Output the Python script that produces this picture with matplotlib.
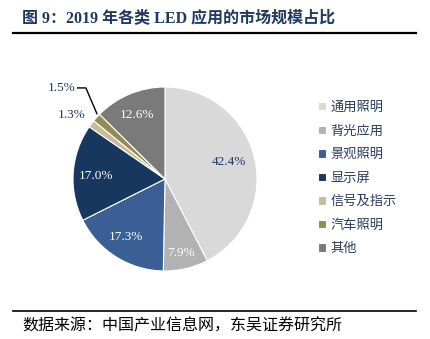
import matplotlib.pyplot as plt
from matplotlib.lines import Line2D

categories = ['通用照明', '背光应用', '景观照明', '显示屏', '信号及指示', '汽车照明', '其他']
shares = [42.4, 7.9, 17.3, 17.0, 1.3, 1.5, 12.6]
colors = ['#d9d9d9', '#b2b2b2', '#3a5f94', '#17375e', '#c4bd97', '#948a54', '#7a7a7a']
label_colors = ['#1f3864', 'white', 'white', 'white', '#1f3864', '#1f3864', 'white']

# label spots (pie data units)
label_xy = [(0.70, 0.19), (0.17, -0.80), (-0.42, -0.63), (-0.75, 0.03),
            (-1.01, 0.70), (-1.12, 0.99), (-0.30, 0.70)]

cjk = ['Noto Sans CJK SC', 'DejaVu Sans']
serif_cjk = ['Liberation Serif', 'Noto Sans CJK SC']

fig = plt.figure(figsize=(4.31, 3.39), dpi=100)

# title and rules
fig.text(22 / 431, 1 - 18 / 339, '图 9：2019 年各类 LED 应用的市场规模占比', family=serif_cjk,
         fontsize=11.5, fontweight='bold', color='#1f3864', va='center', ha='left')
fig.add_artist(Line2D([13 / 431, 416 / 431], [1 - 33 / 339] * 2, color='black', lw=1.6))
fig.add_artist(Line2D([13 / 431, 416 / 431], [1 - 311 / 339] * 2, color='black', lw=1.2))
fig.text(22 / 431, 1 - 326 / 339, '数据来源：中国产业信息网，东吴证券研究所', family=cjk,
         fontsize=11.5, color='black', va='center', ha='left')

ax = fig.add_axes([73 / 431, 1 - 271 / 339, 184 / 431, 184 / 339])
wedges, texts = ax.pie(shares, colors=colors, startangle=90, counterclock=False,
                       wedgeprops=dict(edgecolor='white', linewidth=0.8))
ax.set_aspect('equal')
ax.set_xlim(-1, 1)
ax.set_ylim(-1, 1)

for v, (x, y), c in zip(shares, label_xy, label_colors):
    ax.text(x, y, f'{v:.1f}%', ha='center', va='center', fontsize=9.5,
            family='Liberation Serif', color=c)

# leader line for 1.5%
ax.plot([-0.95, -0.86, -0.74], [0.99, 0.99, 0.71], color='black', lw=1, clip_on=False)

leg = fig.legend(wedges, categories, loc='upper left', bbox_to_anchor=(306 / 431, 1 - 89 / 339),
                 frameon=False, handlelength=0.6, handleheight=0.6, handletextpad=0.35,
                 labelspacing=0.8, prop={'family': cjk, 'size': 9.5})
for t in leg.get_texts():
    t.set_color('#2a3d5c')

fig.savefig('out.png', dpi=100)
